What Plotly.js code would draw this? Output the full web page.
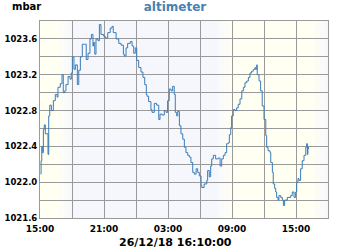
<!DOCTYPE html>
<html><head><meta charset="utf-8">
<script src="https://cdn.plot.ly/plotly-3.0.1.min.js"></script>
<style>html,body{margin:0;padding:0;background:#fff}#chart{width:350px;height:250px}</style>
</head><body><div id="chart"></div>
<script>
const times = [
"2018-12-25 15:04","2018-12-25 15:06","2018-12-25 15:10","2018-12-25 15:13","2018-12-25 15:19","2018-12-25 15:24","2018-12-25 15:30","2018-12-25 15:39","2018-12-25 15:45","2018-12-25 15:49","2018-12-25 15:55",
"2018-12-25 16:04","2018-12-25 16:15","2018-12-25 16:26","2018-12-25 16:36","2018-12-25 16:41","2018-12-25 16:54",
"2018-12-25 17:04","2018-12-25 17:11","2018-12-25 17:19","2018-12-25 17:26","2018-12-25 17:38","2018-12-25 17:49","2018-12-25 17:56",
"2018-12-25 18:02","2018-12-25 18:11","2018-12-25 18:19","2018-12-25 18:30","2018-12-25 18:38","2018-12-25 18:47","2018-12-25 18:58",
"2018-12-25 19:11","2018-12-25 19:20","2018-12-25 19:30","2018-12-25 19:41","2018-12-25 19:49","2018-12-25 19:58",
"2018-12-25 20:01","2018-12-25 20:08","2018-12-25 20:15","2018-12-25 20:26","2018-12-25 20:34","2018-12-25 20:43","2018-12-25 20:58",
"2018-12-25 21:07","2018-12-25 21:21","2018-12-25 21:35","2018-12-25 21:45","2018-12-25 21:52",
"2018-12-25 22:08","2018-12-25 22:23","2018-12-25 22:36","2018-12-25 22:49","2018-12-25 22:54",
"2018-12-25 23:04","2018-12-25 23:13","2018-12-25 23:28","2018-12-25 23:38","2018-12-25 23:47","2018-12-25 23:56",
"2018-12-26 00:04","2018-12-26 00:15","2018-12-26 00:28","2018-12-26 00:39","2018-12-26 00:49","2018-12-26 00:58",
"2018-12-26 01:02","2018-12-26 01:11","2018-12-26 01:24","2018-12-26 01:30","2018-12-26 01:43","2018-12-26 01:56",
"2018-12-26 02:08","2018-12-26 02:15","2018-12-26 02:26","2018-12-26 02:39","2018-12-26 02:49","2018-12-26 02:58",
"2018-12-26 03:07","2018-12-26 03:17","2018-12-26 03:26","2018-12-26 03:35","2018-12-26 03:41","2018-12-26 03:49","2018-12-26 03:55",
"2018-12-26 04:04","2018-12-26 04:13","2018-12-26 04:23","2018-12-26 04:32","2018-12-26 04:41","2018-12-26 04:51",
"2018-12-26 05:00","2018-12-26 05:09","2018-12-26 05:19","2018-12-26 05:28","2018-12-26 05:38","2018-12-26 05:47","2018-12-26 05:56",
"2018-12-26 06:06","2018-12-26 06:10","2018-12-26 06:23","2018-12-26 06:38","2018-12-26 06:43","2018-12-26 06:52",
"2018-12-26 07:00","2018-12-26 07:06","2018-12-26 07:15","2018-12-26 07:28","2018-12-26 07:43","2018-12-26 07:53",
"2018-12-26 08:02","2018-12-26 08:11","2018-12-26 08:21","2018-12-26 08:30","2018-12-26 08:39","2018-12-26 08:45","2018-12-26 08:53","2018-12-26 08:58",
"2018-12-26 09:07","2018-12-26 09:17","2018-12-26 09:26","2018-12-26 09:35","2018-12-26 09:45","2018-12-26 09:55",
"2018-12-26 10:04","2018-12-26 10:13","2018-12-26 10:23","2018-12-26 10:32","2018-12-26 10:41","2018-12-26 10:51",
"2018-12-26 11:00","2018-12-26 11:09","2018-12-26 11:13","2018-12-26 11:19","2018-12-26 11:22","2018-12-26 11:32","2018-12-26 11:41","2018-12-26 11:50",
"2018-12-26 12:00","2018-12-26 12:10","2018-12-26 12:15","2018-12-26 12:23","2018-12-26 12:34","2018-12-26 12:38","2018-12-26 12:47","2018-12-26 12:52",
"2018-12-26 13:00","2018-12-26 13:06","2018-12-26 13:11","2018-12-26 13:19","2018-12-26 13:24","2018-12-26 13:34","2018-12-26 13:43","2018-12-26 13:49","2018-12-26 13:56",
"2018-12-26 14:11","2018-12-26 14:30","2018-12-26 14:39","2018-12-26 14:49","2018-12-26 14:58",
"2018-12-26 15:04","2018-12-26 15:11","2018-12-26 15:17","2018-12-26 15:26","2018-12-26 15:35","2018-12-26 15:45","2018-12-26 15:55",
"2018-12-26 16:00","2018-12-26 16:04","2018-12-26 16:07","2018-12-26 16:10"
];
const pressure = [
1022.09,1022.24,1022.40,1022.33,1022.59,1022.64,1022.54,1022.54,1022.31,1022.74,1022.86,
1022.80,1022.91,1022.98,1022.95,1023.06,1023.10,
1023.20,1023.00,1023.02,1023.09,1023.18,1023.15,1023.22,
1023.40,1023.26,1023.31,1023.09,1023.25,1023.40,1023.54,
1023.54,1023.37,1023.44,1023.60,1023.65,1023.52,
1023.56,1023.43,1023.60,1023.58,1023.76,1023.65,1023.63,
1023.61,1023.67,1023.72,1023.74,1023.67,
1023.60,1023.55,1023.53,1023.43,1023.41,
1023.50,1023.55,1023.57,1023.52,1023.44,1023.50,
1023.36,1023.28,1023.23,1023.17,1023.09,1022.98,
1022.96,1022.90,1022.81,1022.78,1022.88,1022.86,
1022.70,1022.76,1022.75,1022.80,1022.78,1022.91,
1023.04,1023.02,1023.07,1022.98,1022.78,1022.74,1022.79,
1022.63,1022.54,1022.48,1022.39,1022.33,1022.30,
1022.28,1022.22,1022.11,1022.09,1022.15,1022.11,1022.07,
1021.96,1021.94,1021.98,1022.02,1022.13,1022.06,
1022.18,1022.26,1022.30,1022.26,1022.27,1022.18,
1022.26,1022.30,1022.33,1022.43,1022.44,1022.53,1022.61,1022.74,
1022.81,1022.80,1022.83,1022.87,1022.93,1023.02,
1023.06,1023.11,1023.13,1023.17,1023.22,1023.24,
1023.26,1023.28,1023.26,1023.31,1023.20,1023.13,1023.02,1022.85,
1022.70,1022.52,1022.39,1022.35,1022.33,1022.22,1022.11,1021.98,
1021.93,1021.89,1021.83,1021.80,1021.85,1021.83,1021.80,1021.74,1021.80,
1021.83,1021.85,1021.89,1021.83,1021.89,
1022.00,1022.04,1022.02,1022.15,1022.24,1022.30,1022.39,
1022.43,1022.31,1022.39,1022.37
];
const xRange = ["2018-12-25 15:00","2018-12-26 18:00"];
const yRange = [1021.6, 1023.8];
// day/night transitions: [start, end, fromColour, toColour]
const DAY = [255,255,242], NIGHT = [245,247,253];
const transitions = [
  ["2018-12-25 16:40","2018-12-25 18:00", DAY, NIGHT],
  ["2018-12-26 07:30","2018-12-26 09:00", NIGHT, DAY],
  ["2018-12-26 16:30","2018-12-26 18:00", DAY, NIGHT]
];
const solid = [
  ["2018-12-25 15:00","2018-12-25 16:40", DAY],
  ["2018-12-25 18:00","2018-12-26 07:30", NIGHT],
  ["2018-12-26 09:00","2018-12-26 16:30", DAY]
];
function rgb(c){return 'rgb('+c.map(Math.round).join(',')+')';}
const shapes = [];
solid.forEach(s=>shapes.push({type:'rect',xref:'x',yref:'paper',x0:s[0],x1:s[1],y0:0,y1:1,fillcolor:rgb(s[2]),line:{width:0},layer:'below'}));
transitions.forEach(t=>{
  const a = new Date(t[0].replace(' ','T')+'Z').getTime(), b = new Date(t[1].replace(' ','T')+'Z').getTime();
  const n = 10;
  for(let i=0;i<n;i++){
    const f=(i+0.5)/n;
    const c=t[2].map((v,k)=>v+(t[3][k]-v)*f);
    const x0=new Date(a+(b-a)*i/n).toISOString().replace('T',' ').slice(0,19);
    const x1=new Date(a+(b-a)*(i+1)/n).toISOString().replace('T',' ').slice(0,19);
    shapes.push({type:'rect',xref:'x',yref:'paper',x0:x0,x1:x1,y0:0,y1:1,fillcolor:rgb(c),line:{width:0},layer:'below'});
  }
});
const F = 'DejaVu Sans';
const trace = {x:times,y:pressure,type:'scatter',mode:'lines',line:{color:'#3a7cb8',width:1,shape:'hv'},hoverinfo:'skip'};
const layout = {
  width:350,height:250,
  margin:{l:40,r:22,t:21,b:32,pad:0},
  paper_bgcolor:'#ffffff',plot_bgcolor:'#ffffff',
  showlegend:false,
  shapes:shapes,
  xaxis:{type:'date',range:xRange,dtick:6*3600000,tick0:'2018-12-25 15:00',tickformat:'%H:%M',
    showgrid:true,gridcolor:'#9a9a9a',gridwidth:1,
    minor:{dtick:3*3600000,tick0:'2018-12-25 15:00',showgrid:true,gridcolor:'#9a9a9a',gridwidth:1},
    showline:true,linecolor:'#9a9a9a',linewidth:1,mirror:true,zeroline:false,ticks:'',
    tickfont:{family:F,size:9,color:'#000',weight:'bold'},ticklabelstandoff:2,fixedrange:true},
  yaxis:{range:yRange,dtick:0.4,tick0:1021.6,tickformat:'.1f',
    showgrid:true,gridcolor:'#9a9a9a',gridwidth:1,
    minor:{dtick:0.2,tick0:1021.6,showgrid:true,gridcolor:'#9a9a9a',gridwidth:1},
    showline:true,linecolor:'#9a9a9a',linewidth:1,mirror:true,zeroline:false,ticks:'',
    tickfont:{family:F,size:8.5,color:'#000',weight:'bold'},ticklabelstandoff:0,fixedrange:true},
  title:{text:'altimeter',font:{family:F,size:12,color:'#4682b4',weight:'bold'},x:0.5,xref:'container',y:0.972,yref:'container',xanchor:'center',yanchor:'middle'},
  annotations:[
    {text:'mbar',xref:'paper',yref:'paper',x:-0.104,y:1.0,xanchor:'left',yanchor:'bottom',yshift:7,showarrow:false,font:{family:F,size:10,color:'#000',weight:'bold'}},
    {text:'26/12/18 16:10:00',xref:'paper',yref:'paper',x:0.469,y:0,xanchor:'center',yanchor:'middle',yshift:-24,showarrow:false,font:{family:F,size:11,color:'#000',weight:'bold'}}
  ]
};
Plotly.newPlot('chart',[trace],layout,{staticPlot:true,displayModeBar:false});
</script></body></html>
